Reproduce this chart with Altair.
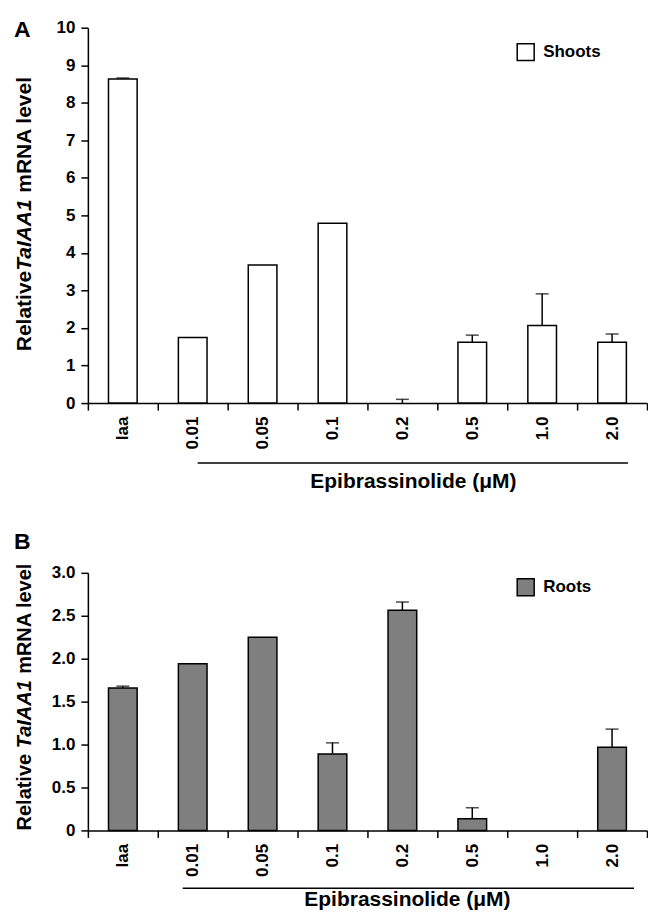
import altair as alt
import pandas as pd

cats = ["Iaa", "0.01", "0.05", "0.1", "0.2", "0.5", "1.0", "2.0"]
shoots = [8.63, 1.75, 3.68, 4.79, 0.0, 1.62, 2.07, 1.62]
shoots_top = [8.66, None, None, None, 0.10, 1.81, 2.91, 1.84]
roots = [1.66, 1.94, 2.25, 0.89, 2.565, 0.136, 0.0, 0.97]
roots_top = [1.68, None, None, 1.02, 2.66, 0.264, None, 1.18]

FONT = "Liberation Sans"
W = 560


def txt(s, x, y, size, angle=0, align="left", baseline="top", style="normal"):
    return alt.Chart(pd.DataFrame({"t": [s]})).mark_text(
        font=FONT, fontWeight="bold", fontSize=size, angle=angle, align=align,
        baseline=baseline, fontStyle=style, color="black"
    ).encode(text="t:N", x=alt.value(x), y=alt.value(y))


def hline(x1, x2, y):
    return alt.Chart(pd.DataFrame({"a": [0]})).mark_rule(color="black", strokeWidth=1.5).encode(
        x=alt.value(x1), x2=alt.value(x2), y=alt.value(y))


def panel(vals, tops, name, fill, H, ymax, yvals, labelexpr, letter, letter_y, title_parts,
          title_size, line_y, line_x1, line_x2, epi_x, epi_y, legend_y):
    df = pd.DataFrame({"cat": cats, "value": vals, "top": tops, "series": [name] * len(cats)})
    xs = alt.Scale(domain=cats, paddingInner=0, paddingOuter=0)
    xax = alt.Axis(title=None, labelAngle=-90, tickBand="extent", tickSize=7, labelPadding=6)
    ys = alt.Scale(domain=[0, ymax], nice=False, zero=True)
    yax = alt.Axis(title=None, values=yvals, tickSize=7, labelPadding=6,
                   labelExpr=labelexpr, labelOverlap=False)
    x = alt.X("cat:N", sort=cats, scale=xs, axis=xax)
    base = alt.Chart(df)
    bars = base.transform_filter("datum.value > 0").mark_bar(
        width=alt.RelativeBandSize(0.41), stroke="black", strokeWidth=1.5).encode(
        x=x, y=alt.Y("value:Q", scale=ys, axis=yax),
        color=alt.Color("series:N", scale=alt.Scale(domain=[name], range=[fill]),
                        legend=alt.Legend(title=None, orient="none", legendX=429, legendY=legend_y,
                                          symbolType="square", symbolSize=289,
                                          symbolStrokeColor="black", symbolStrokeWidth=1.5,
                                          labelFont=FONT, labelFontWeight="bold", labelFontSize=17,
                                          labelColor="black", labelOffset=8, padding=0)))
    err = base.transform_filter("isValid(datum.top)").mark_rule(color="black", strokeWidth=1.5).encode(
        x=x, y=alt.Y("value:Q", scale=ys, axis=yax), y2="top:Q")
    caps = base.transform_filter("isValid(datum.top)").mark_tick(
        color="black", size=13, thickness=1.5).encode(x=x, y=alt.Y("top:Q", scale=ys, axis=yax))
    layers = [bars, err, caps,
              txt(letter, -74, letter_y, 23),
              hline(line_x1, line_x2, line_y),
              txt("Epibrassinolide (\u03bcM)", epi_x, epi_y, 21, align="center", baseline="middle")]
    for (s, yy, st) in title_parts:
        layers.append(txt(s, -63, yy, title_size, angle=270, align="left", baseline="middle", style=st))
    return alt.layer(*layers).properties(width=W, height=H).resolve_scale(color="independent")


A = panel(shoots, shoots_top, "Shoots", "white", 376, 10, list(range(11)),
          "datum.label", "A", -9,
          [("Relative", 324, "normal"), ("TaIAA1", 243.5, "italic"), ("mRNA level", 165.3, "normal")],
          21, 436, 110, 541, 326, 455, 15)
B = panel(roots, roots_top, "Roots", "#7f7f7f", 258, 3, [0, 0.5, 1, 1.5, 2, 2.5, 3],
          "datum.value == 0 ? '0' : format(datum.value, '.1f')", "B", -42,
          [("Relative", 258, "normal"), ("TaIAA1", 175.7, "italic"), ("mRNA level", 101.2, "normal")],
          20, 316, 95, 547, 320, 328, 5)

chart = alt.vconcat(A, B, spacing=39).resolve_scale(color="independent").resolve_legend(
    color="independent").properties(
    padding={"left": 6, "top": 10, "right": 0, "bottom": 0}
).configure_axis(
    domainColor="black", tickColor="black", domainWidth=1.5, tickWidth=1.5,
    labelColor="black", labelFont=FONT, labelFontWeight="bold", labelFontSize=17, grid=False
).configure_view(stroke=None)

chart.save("out.html", embed_options={"renderer": "svg", "actions": False})
